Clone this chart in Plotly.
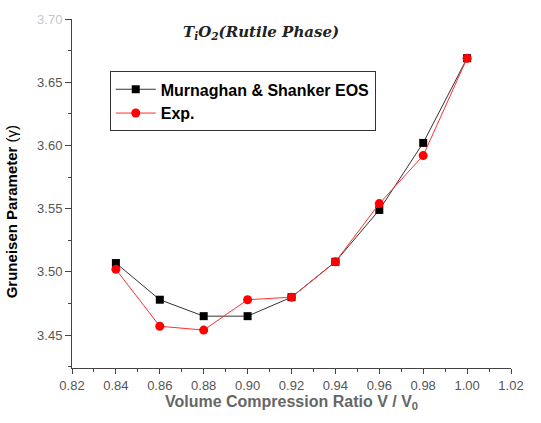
import plotly.graph_objects as go

x_vals = [0.84, 0.86, 0.88, 0.90, 0.92, 0.94, 0.96, 0.98, 1.00]
murnaghan = [3.507, 3.478, 3.465, 3.465, 3.480, 3.508, 3.549, 3.602, 3.669]
exp_vals = [3.502, 3.457, 3.454, 3.478, 3.480, 3.508, 3.554, 3.592, 3.669]
x_ticks = [0.82, 0.84, 0.86, 0.88, 0.90, 0.92, 0.94, 0.96, 0.98, 1.00, 1.02]
y_ticks = [3.45, 3.50, 3.55, 3.60, 3.65, 3.70]

fig = go.Figure()
fig.add_trace(go.Scatter(
    x=x_vals, y=murnaghan, mode="lines+markers", name="Murnaghan & Shanker EOS",
    line=dict(color="#333333", width=1),
    marker=dict(symbol="square", size=8, color="black"),
))
fig.add_trace(go.Scatter(
    x=x_vals, y=exp_vals, mode="lines+markers", name="Exp.",
    line=dict(color="#ff3030", width=1),
    marker=dict(symbol="circle", size=9, color="red"),
))

y_ticktext = [f"{v:.2f}" for v in y_ticks]
y_ticktext[-1] = '<span style="color:#c4c6d0">' + y_ticktext[-1] + '</span>'

tickfont = dict(family="Liberation Sans, Arial", size=13, color="#555555")
fig.update_layout(
    width=541, height=423,
    margin=dict(l=72, r=30, t=17, b=55),
    plot_bgcolor="white", paper_bgcolor="white",
    showlegend=True,
    legend=dict(
        x=0.086, y=0.85, xanchor="left", yanchor="top",
        bordercolor="#333333", borderwidth=1, bgcolor="white",
        font=dict(family="Liberation Sans, Arial", size=16, color="black", weight="bold"),
        tracegroupgap=0, itemwidth=40,
    ),
    xaxis=dict(
        range=[0.82, 1.02], tickvals=x_ticks,
        ticktext=[f"{v:.2f}" for v in x_ticks],
        showgrid=False, zeroline=False, showline=True, linecolor="#444444", linewidth=1,
        ticks="outside", ticklen=5, tickcolor="#444444",
        minor=dict(ticks="outside", ticklen=3, dtick=0.01, tickcolor="#444444"),
        tickfont=tickfont,
        title=dict(text="Volume Compression Ratio V / V<sub>0</sub>",
                   font=dict(family="Liberation Sans, Arial", size=16, color="#666666", weight="bold"),
                   standoff=3),
    ),
    yaxis=dict(
        range=[3.424, 3.70], tickvals=y_ticks,
        ticktext=y_ticktext,
        showgrid=False, zeroline=False, showline=True, linecolor="#444444", linewidth=1,
        ticks="outside", ticklen=6, tickcolor="#444444",
        minor=dict(ticks="outside", ticklen=3, dtick=0.025, tickcolor="#444444"),
        tickfont=tickfont,
    ),
    annotations=[
        dict(
            x=0.43, y=0.962, xref="paper", yref="paper", xanchor="center", yanchor="middle",
            text="<b><i>T<sub>i</sub>O<sub>2</sub>(Rutile Phase)</i></b>",
            showarrow=False,
            font=dict(family="DejaVu Serif", size=15, color="#222222"),
        ),
        dict(
            x=-0.136, y=0.447, xref="paper", yref="paper", xanchor="center", yanchor="middle",
            text="<b>Gruneisen Parameter</b> (γ)", textangle=-90,
            showarrow=False,
            font=dict(family="Liberation Sans, Arial", size=15, color="black"),
        ),
    ],
)

fig.write_html("out.html")
